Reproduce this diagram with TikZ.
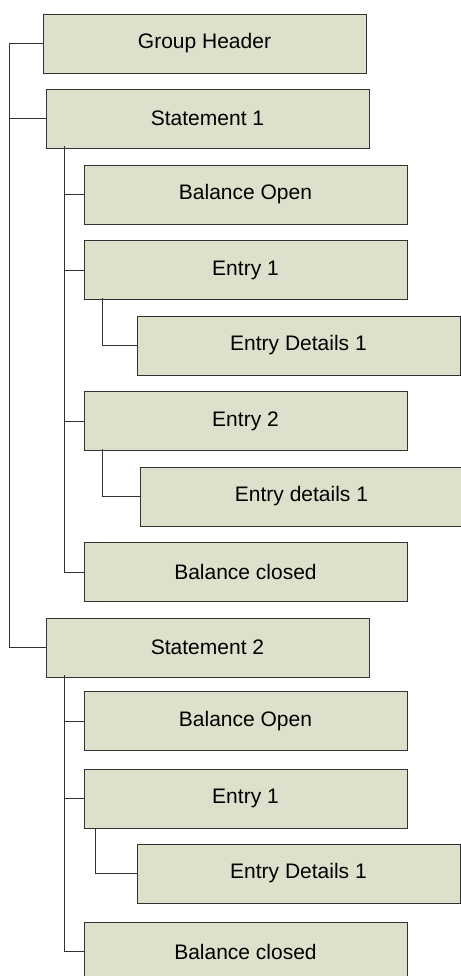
\documentclass[tikz,border=0pt]{standalone}
\usepackage{fontspec}
\setmainfont{Liberation Sans}
\usetikzlibrary{calc, positioning}
\definecolor{boxfill}{RGB}{221,224,203}
\definecolor{boxline}{RGB}{50,50,50}

\begin{document}
\begin{tikzpicture}[x=1pt, y=-1pt,
  box/.style={shape=rectangle, minimum height=59pt, minimum width=323pt, draw=boxline, fill=boxfill, line width=0.8pt, font=\fontsize{21}{25}\selectfont},
  link/.style={draw=boxline, line width=0.8pt}]
\useasboundingbox (0,0) rectangle (460,976);
\node[box] (gh) at (204.5,43.5) {Group Header};
\node[box] (st1) at (207.5,118.5) {Statement 1};
\node[box] (bo1) at (245.5,194.5) {Balance Open};
\node[box] (en1) at (245.5,270) {Entry 1};
\node[box] (ed1) at (298.5,345.5) {Entry Details 1};
\node[box] (en2) at (245.5,421) {Entry 2};
\node[box] (ed2) at (301.5,496.5) {Entry details 1};
\node[box] (bc1) at (245.5,572) {Balance closed};
%second statement
\node[box] (st2) at (207.5,647.5) {Statement 2};
\node[box] (bo2) at (245.5,721) {Balance Open};
\node[box] (en3) at (245.5,798.5) {Entry 1};
\node[box] (ed3) at (298.5,873.5) {Entry Details 1};
\node[box] (bc2) at (245.5,951.5) {Balance closed};
%main trunk
\coordinate (t0) at (9,43.5);
\draw[link] (gh.west) -- (t0) |- (st2.west);
\draw[link] (t0 |- st1.west) -- (st1.west);
%statement 1
\draw[link] ([xshift=19pt, yshift=2pt]st1.south west) coordinate (t1) |- (bc1.west);
\draw[link] (t1 |- bo1.west) -- (bo1.west);
\draw[link] (t1 |- en1.west) -- (en1.west);
\draw[link] (t1 |- en2.west) -- (en2.west);
\draw[link] ([xshift=19pt, yshift=2pt]en1.south west) |- (ed1.west);
\draw[link] ([xshift=19pt, yshift=2pt]en2.south west) |- (ed2.west);
%statement 2
\draw[link] ([xshift=19pt, yshift=2pt]st2.south west) coordinate (t2) |- (bc2.west);
\draw[link] (t2 |- bo2.west) -- (bo2.west);
\draw[link] (t2 |- en3.west) -- (en3.west);
\draw[link] ([xshift=12pt, yshift=-1pt]en3.south west) |- (ed3.west);
\end{tikzpicture}
\end{document}
